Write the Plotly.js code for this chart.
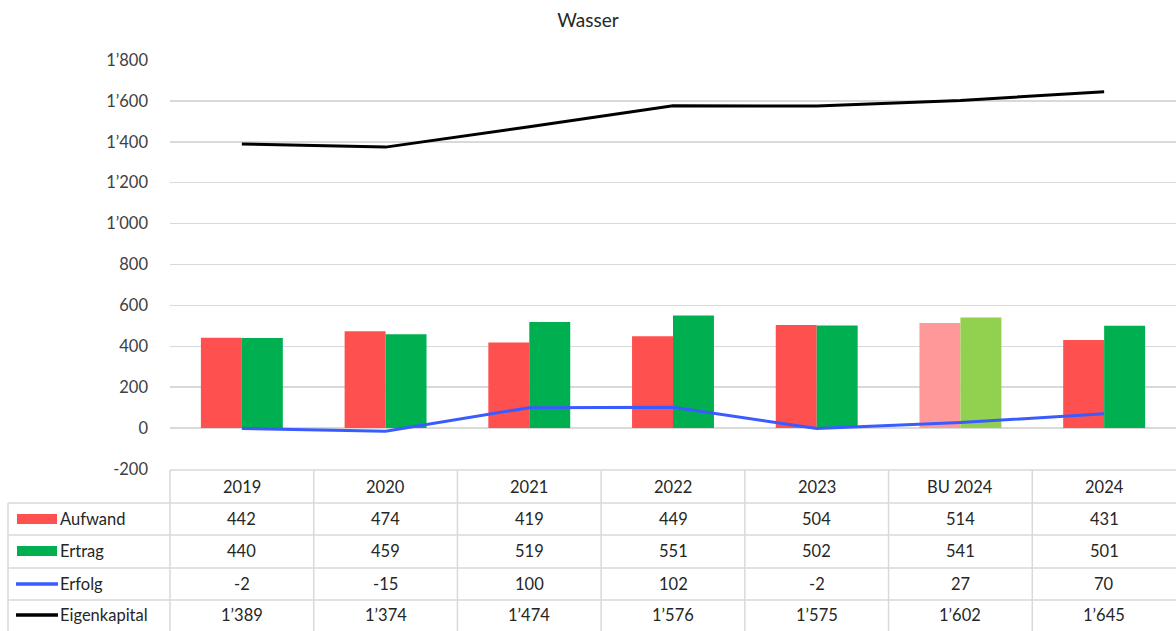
<!DOCTYPE html>
<html>
<head>
<meta charset="utf-8">
<script src="https://cdn.plot.ly/plotly-3.0.1.min.js"></script>
<style>html,body{margin:0;padding:0;background:#fff;}#chart{width:1176px;height:631px;}</style>
</head>
<body>
<div id="chart"></div>
<script>
const categories = ['2019', '2020', '2021', '2022', '2023', 'BU 2024', '2024'];
const aufwand = [442, 474, 419, 449, 504, 514, 431];
const ertrag = [440, 459, 519, 551, 502, 541, 501];
const erfolg = [-2, -15, 100, 102, -2, 27, 70];
const eigenkapital = [1389, 1374, 1474, 1576, 1575, 1602, 1645];
const seriesNames = ['Aufwand', 'Ertrag', 'Erfolg', 'Eigenkapital'];
const yTicks = [-200, 0, 200, 400, 600, 800, 1000, 1200, 1400, 1600, 1800];

const W = 1176, H = 631;
const L = 170, R = 0, T = 60, B = 162;
const plotW = W - L - R, plotH = H - T - B;
const px2x = px => (px - L) / plotW;
const py2y = py => (H - B - py) / plotH;

const fmt = v => {
  const s = Math.abs(v).toString();
  const t = s.length > 3 ? s.slice(0, s.length - 3) + '\u2019' + s.slice(s.length - 3) : s;
  return (v < 0 ? '-' : '') + t;
};

const red = '#FF5050', green = '#00B050', lightRed = '#FF9999', lightGreen = '#92D050';
const blue = '#3A5BFF', black = '#000000';
const redColors = categories.map(c => c.startsWith('BU') ? lightRed : red);
const greenColors = categories.map(c => c.startsWith('BU') ? lightGreen : green);

const traces = [
  {type: 'bar', name: seriesNames[0], x: categories, y: aufwand, marker: {color: redColors}, hoverinfo: 'x+y'},
  {type: 'bar', name: seriesNames[1], x: categories, y: ertrag, marker: {color: greenColors}, hoverinfo: 'x+y'},
  {type: 'scatter', mode: 'lines', name: seriesNames[2], x: categories, y: erfolg, line: {color: blue, width: 3}},
  {type: 'scatter', mode: 'lines', name: seriesNames[3], x: categories, y: eigenkapital, line: {color: black, width: 3}}
];

const gridCol = '#D9D9D9';
const fam = 'Lato, "Open Sans", sans-serif';
const textFont = {family: fam, size: 16.5, color: '#262626'};
const shapes = [];
const annotations = [];

// table rows (pixel positions of borders)
const rowBorders = [470, 503, 535, 568, 600];
const rowCenters = [487, 519, 551, 584, 615];
shapes.push({type: 'line', xref: 'paper', yref: 'paper', x0: 0, x1: 1, y0: py2y(rowBorders[0]), y1: py2y(rowBorders[0]), line: {color: gridCol, width: 1.5}});
for (let i = 1; i < rowBorders.length; i++) {
  shapes.push({type: 'line', xref: 'paper', yref: 'paper', x0: px2x(8), x1: 1, y0: py2y(rowBorders[i]), y1: py2y(rowBorders[i]), line: {color: gridCol, width: 1.5}});
}
// vertical borders
shapes.push({type: 'line', xref: 'paper', yref: 'paper', x0: px2x(8), x1: px2x(8), y0: py2y(503), y1: py2y(631), line: {color: gridCol, width: 1.5}});
for (let i = 0; i < categories.length; i++) {
  const xp = i / categories.length;
  shapes.push({type: 'line', xref: 'paper', yref: 'paper', x0: xp, x1: xp, y0: py2y(470), y1: py2y(631), line: {color: gridCol, width: 1.5}});
}

// header and values (x given as category index)
const rows = [aufwand, ertrag, erfolg, eigenkapital];
categories.forEach((c, i) => {
  annotations.push({xref: 'x', yref: 'paper', x: i, y: py2y(rowCenters[0]), text: c, showarrow: false, font: textFont, xanchor: 'center', yanchor: 'middle'});
  rows.forEach((r, k) => {
    annotations.push({xref: 'x', yref: 'paper', x: i, y: py2y(rowCenters[k + 1]), text: fmt(r[i]), showarrow: false, font: textFont, xanchor: 'center', yanchor: 'middle'});
  });
});

// row labels with legend swatches
seriesNames.forEach((n, k) => {
  const cy = rowCenters[k + 1];
  annotations.push({xref: 'paper', yref: 'paper', x: px2x(58), y: py2y(cy), text: n, showarrow: false, font: textFont, xanchor: 'left', yanchor: 'middle'});
  if (k < 2) {
    shapes.push({type: 'rect', xref: 'paper', yref: 'paper', x0: px2x(17), x1: px2x(57), y0: py2y(cy - 5), y1: py2y(cy + 5), fillcolor: k === 0 ? red : green, line: {width: 0}});
  } else {
    shapes.push({type: 'line', xref: 'paper', yref: 'paper', x0: px2x(16), x1: px2x(58), y0: py2y(cy), y1: py2y(cy), line: {color: k === 2 ? blue : black, width: 3.5}});
  }
});

const layout = {
  width: W, height: H,
  margin: {l: L, r: R, t: T, b: B, pad: 0},
  paper_bgcolor: '#ffffff', plot_bgcolor: '#ffffff',
  title: {text: 'Wasser', x: 0.5, xref: 'container', xanchor: 'center', y: 1 - 20 / H, yref: 'container', yanchor: 'middle', font: {family: fam, size: 19, color: '#262626'}},
  showlegend: false,
  barmode: 'group', bargap: 0.43, bargroupgap: 0,
  xaxis: {type: 'category', range: [-0.5, categories.length - 0.5], showticklabels: false, showgrid: false, zeroline: false, showline: false, fixedrange: true},
  yaxis: {range: [-200, 1800], tickmode: 'array', tickvals: yTicks, ticktext: yTicks.map(fmt), showgrid: true, gridcolor: gridCol, gridwidth: 1.5, zeroline: true, zerolinecolor: gridCol, zerolinewidth: 1.5, showline: false, ticks: '', ticklabelstandoff: 21, tickfont: {family: fam, size: 16.5, color: '#404040'}, fixedrange: true},
  shapes: shapes,
  annotations: annotations
};

Plotly.newPlot('chart', traces, layout, {displayModeBar: false, staticPlot: true});
</script>
</body>
</html>
